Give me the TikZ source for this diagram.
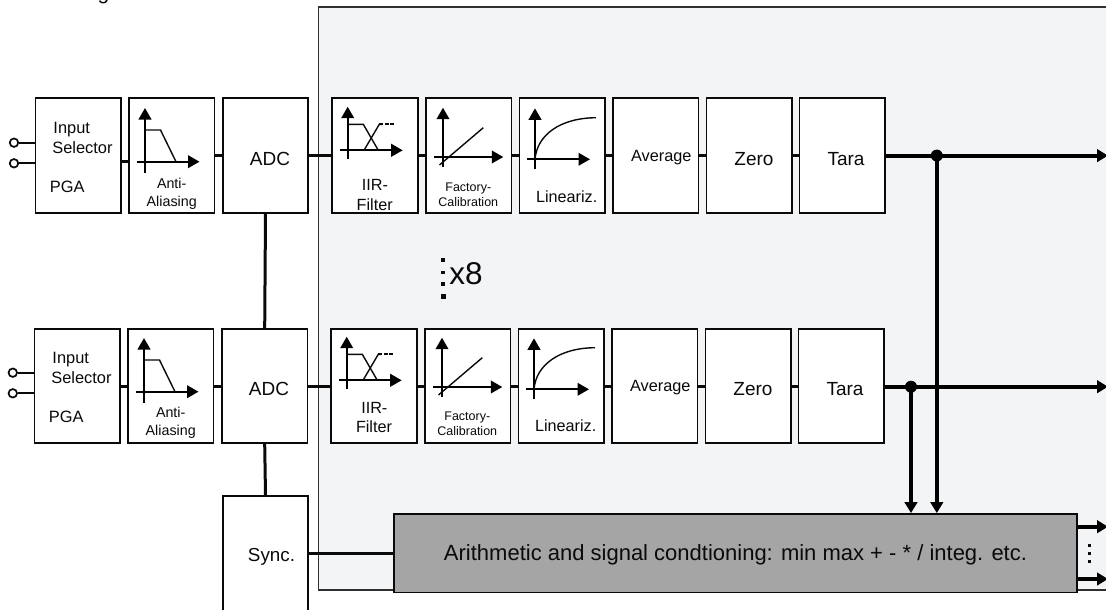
\documentclass[tikz,border=0pt]{standalone}
\usepackage{fontspec}
\setmainfont{Liberation Sans}
\usetikzlibrary{arrows.meta}
\definecolor{panelfill}{HTML}{F3F4F6}
\definecolor{grayfill}{HTML}{A5A5A5}
\definecolor{ink}{HTML}{0A0A0A}
\newcommand{\fsz}[1]{\fontsize{#1}{#1}\selectfont}
\newcommand{\iconset}{%
  % anti-aliasing
  \draw[axis] (145,172.7) -- (145,108);
  \draw[axis] (136.7,161.7) -- (199.5,161.7);
  \draw[curve] (145,130) -- (160.5,130) -- (176,161.7);
  % IIR
  \draw[axis] (347.7,159.3) -- (347.7,106.7);
  \draw[axis] (340,150.3) -- (402.7,150.3);
  \draw[curve] (347.7,124.3) -- (363.3,124.3) -- (378.3,150.3);
  \draw[curve] (364,150.3) -- (379.3,124.3) -- (382,124.3);
  \draw[line width=2.2pt,ink,dash pattern=on 4pt off 1.2pt] (379.3,124.3) -- (394,124.3);
  % factory calibration
  \draw[axis] (443,166.7) -- (443,107.7);
  \draw[axis] (434,157) -- (503.3,157);
  \draw[curve] (439.5,165) -- (483.3,127.7);
  % linearization
  \draw[axis] (535,169.3) -- (535,108.3);
  \draw[axis] (527.3,159.3) -- (590,159.3);
  \draw[curve] (535,159.3) .. controls (537,135) and (560,118) .. (596,117.7);
}
\tikzset{
  x=1pt,y=-1pt,
  blockbox/.style={draw=ink,fill=white,line width=1.7pt,inner sep=0pt,minimum width=85.5pt,minimum height=114.5pt},
  conn/.style={draw=ink,line width=3pt},
  bus/.style={draw=black,line width=4pt},
  busarrow/.style={bus,-{Triangle[length=11pt,width=12.5pt]}},
  thinwire/.style={draw=ink,line width=1.7pt},
  axis/.style={draw=black,line width=2.3pt,-{Triangle[length=11.5pt,width=12.5pt]}},
  curve/.style={draw=ink,line width=1.4pt},
  term/.style={circle,draw=ink,fill=white,line width=1.7pt,inner sep=0pt,minimum size=8.5pt},
  junction/.style={circle,fill=black,inner sep=0pt,minimum size=12pt},
  dotmark/.style={rectangle,fill=ink,inner sep=0pt,minimum size=#1},
  lbl/.style={anchor=base,inner sep=0pt,text=ink,font=\fsz{#1}},
}
\begin{document}
\begin{tikzpicture}
\useasboundingbox (0,0) rectangle (1106,610);
\node[lbl=21] (cutoff) at (103.5,-0.5) {g};
% panel
\draw[draw=ink!85,fill=panelfill,line width=1.4pt] (318.5,7) -- (1125,7) -- (1125,590) -- (318.5,590) -- cycle;

% row 1 blocks
\foreach \nm/\cx in {pgaA/78.2,antiA/171.7,adcA/265.5,iirA/374.9,facA/468.8,linA/562.3,avgA/655.7,zeroA/749.2,taraA/842.3}
  \node[blockbox] (\nm) at (\cx,155.5) {};
% row 2 blocks
\foreach \nm/\cx in {pgaB/77.2,antiB/170.7,adcB/264.7,iirB/374,facB/467.8,linB/561.3,avgB/654.7,zeroB/748.2,taraB/841.3}
  \node[blockbox] (\nm) at (\cx,386) {};
% sync and arithmetic
\node[draw=ink,fill=white,line width=1.7pt,inner sep=0pt,minimum width=85.5pt,minimum height=130pt] (sync) at (265.5,561) {};
\node[draw=ink,fill=grayfill,line width=1.7pt,inner sep=0pt,minimum width=683pt,minimum height=78.5pt] (arith) at (735.5,553.2) {};

% icons
\iconset
\begin{scope}[shift={(-1,230)}]\iconset\end{scope}

% terminals
\node[term] (tA1) at (14,142.7) {};
\node[term] (tA2) at (14,163.3) {};
\node[term] (tB1) at (12.8,372.7) {};
\node[term] (tB2) at (12.8,393.3) {};
\foreach \t/\b in {tA1/pgaA,tA2/pgaA,tB1/pgaB,tB2/pgaB}
  \draw[thinwire] (\t) -- (\t -| \b.west);

% row connectors
\coordinate (lvlA) at (0,161);
\coordinate (lvlB) at (0,386);
\draw[conn] (pgaA.east |- lvlA) -- (antiA.west |- lvlA);
\draw[conn] (pgaB.east |- lvlB) -- (antiB.west |- lvlB);
\foreach \a/\b in {antiA/adcA,adcA/iirA,iirA/facA,facA/linA,linA/avgA,avgA/zeroA,zeroA/taraA,
                   antiB/adcB,adcB/iirB,iirB/facB,facB/linB,linB/avgB,avgB/zeroB,zeroB/taraB}
  \draw[conn] (\a) -- (\b);

% vertical links between ADCs and sync
\draw[conn] (adcA.south) -- (adcB.north);
\draw[conn] (adcB.south) -- (sync.north);
\draw[conn] (sync.east |- arith) -- (arith.west);

% outputs
\coordinate (outA) at (1108,155.6);
\coordinate (outB) at (1108,386.7);
\coordinate (outC) at (1108,526.7);
\coordinate (outD) at (1108,579);
\draw[busarrow] (taraA.east |- outA) -- (outA);
\draw[busarrow] (taraB.east |- outB) -- (outB);
\draw[busarrow] (arith.east |- outC) -- (outC);
\draw[busarrow] (arith.east |- outD) -- (outD);

% junctions
\node[junction] (jA) at (936.8,155.6) {};
\node[junction] (jB) at (911,386.7) {};
\draw[busarrow] (jA.center) -- (jA.center |- arith.north);
\draw[busarrow] (jB.center) -- (jB.center |- arith.north);

% dots
\node[dotmark=4pt] (xa) at (443,260) {};
\node[dotmark=3.5pt] (xb) at (443,272.5) {};
\node[dotmark=3.5pt] (xc) at (443,284) {};
\node[dotmark=5pt] (xd) at (443,296) {};
\node[dotmark=3pt] (da) at (1089.7,545) {};
\node[dotmark=3pt] (db) at (1089.7,553.3) {};
\node[dotmark=3pt] (dc) at (1089.7,561.7) {};

% labels row 1
\node[lbl=16.4] (l1) at (71.7,133) {Input};
\node[lbl=16.4] (l2) at (82.5,153) {Selector};
\node[lbl=16.4] (l3) at (67.2,192.7) {PGA};
\node[lbl=14.3] (l4) at (171.7,188) {Anti-};
\node[lbl=14.3] (l5) at (171.7,206) {Aliasing};
\node[lbl=19] (l6) at (270,165) {ADC};
\node[lbl=16.2] (l7) at (375,190.7) {IIR-};
\node[lbl=16.2] (l8) at (374.7,210) {Filter};
\node[lbl=12.5] (l9) at (468.3,191.7) {Factory-};
\node[lbl=12.5] (l10) at (468.3,206) {Calibration};
\node[lbl=16.2] (l11) at (566.7,202.3) {Lineariz.};
\node[lbl=16.3] (l12) at (661.3,161.7) {Average};
\node[lbl=19] (l13) at (754,165) {Zero};
\node[lbl=19] (l14) at (846,165) {Tara};
% labels row 2
\node[lbl=16.4] (m1) at (70.7,363) {Input};
\node[lbl=16.4] (m2) at (81.5,383) {Selector};
\node[lbl=16.4] (m3) at (66.2,422.7) {PGA};
\node[lbl=14.3] (m4) at (170.7,417) {Anti-};
\node[lbl=14.3] (m5) at (170.7,435) {Aliasing};
\node[lbl=19] (m6) at (269,395) {ADC};
\node[lbl=16.2] (m7) at (374.3,413.3) {IIR-};
\node[lbl=16.2] (m8) at (374,432.7) {Filter};
\node[lbl=12.5] (m9) at (467.3,420) {Factory-};
\node[lbl=12.5] (m10) at (467.3,435) {Calibration};
\node[lbl=16.2] (m11) at (565.7,431.7) {Lineariz.};
\node[lbl=16.3] (m12) at (660.3,391.7) {Average};
\node[lbl=19] (m13) at (753,395) {Zero};
\node[lbl=19] (m14) at (845,395) {Tara};
% other labels
\node[lbl=31.5] (x8) at (466,284) {x8};
\node[lbl=18.8] (syncl) at (271.5,561.5) {Sync.};
\node[lbl=22] (arl) at (735.5,560.5) {Arithmetic and signal condtioning: min max + - * / integ. etc.};
\end{tikzpicture}
\end{document}
